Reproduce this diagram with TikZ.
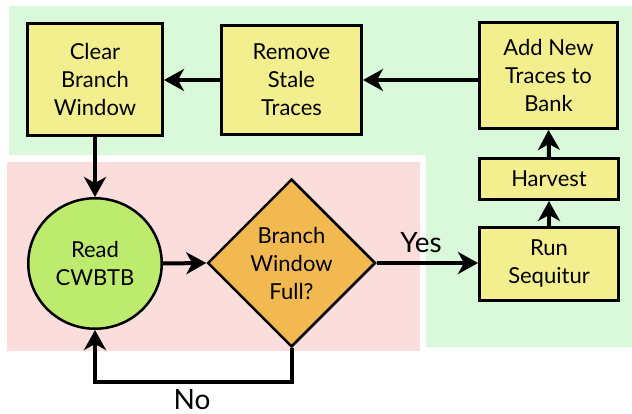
\documentclass[tikz,border=0pt]{standalone}
\usepackage{fontspec}
\setmainfont{Lato}
\usetikzlibrary{arrows.meta,shapes.geometric}
\definecolor{bggreen}{RGB}{218,248,218}
\definecolor{bgpink}{RGB}{251,222,219}
\definecolor{boxyellow}{RGB}{243,239,143}
\definecolor{circgreen}{RGB}{189,235,109}
\definecolor{diaorange}{RGB}{242,185,80}
\begin{document}
\begin{tikzpicture}[x=1pt,y=-1pt,
  every node/.style={font=\fontsize{22}{28}\selectfont, align=center, inner sep=0pt},
  stepbox/.style={draw=black, line width=3.3pt, fill=boxyellow},
  roundstep/.style={draw=black, line width=2.5pt, ellipse, fill=circgreen},
  decision/.style={draw=black, line width=2.5pt, diamond, fill=diaorange},
  biglabel/.style={font=\fontsize{28}{30}\selectfont},
  conn/.style={line width=4pt, -{Stealth[length=20pt,width=22pt,inset=6pt]}}
]
\useasboundingbox (0,0) rectangle (632,414);
% backgrounds
\fill[bggreen] (9,6) -- (632,6) -- (632,347) -- (426,347) -- (426,155) -- (9,155) -- cycle;
\fill[bgpink] (7,162) rectangle (420,351);
% nodes
\node[stepbox, minimum width=134.7pt, minimum height=111.7pt] (clear) at (95,79.5) {Clear\\Branch\\Window};
\node[stepbox, minimum width=139.7pt, minimum height=108.7pt] (remove) at (291.5,80) {Remove\\Stale\\Traces};
\node[stepbox, minimum width=137.7pt, minimum height=105.7pt] (add) at (548.5,75.5) {Add New\\Traces to\\Bank};
\node[stepbox, minimum width=138.7pt, minimum height=40.7pt] (harvest) at (549,179) {Harvest};
\node[stepbox, minimum width=138.7pt, minimum height=72.7pt] (run) at (549,264) {Run\\Sequitur};
\node[roundstep, minimum width=133.5pt, minimum height=130.5pt] (read) at (95,263.5) {Read\\CWBTB};
\node[decision, minimum width=168pt, minimum height=168pt] (full) at (291.5,263) {Branch\\Window\\Full?};
\coordinate (loopc) at (291.5,382);
% connectors
\draw[conn] (add.west |- remove.east) -- (remove.east);
\draw[conn] (remove.west) -- (clear.east |- remove.west);
\draw[conn] (clear.south) -- (read.north);
\draw[conn] (read.east) -- (full.west);
\draw[conn] (full.east) -- (run.west |- full.east);
\draw[conn] (run.north) -- (harvest.south);
\draw[conn] (harvest.north) -- (add.south);
\draw[conn] (full.south) -- (loopc) -| (read.south);
% labels
\node[biglabel] (yes) at (421,243) {Yes};
\node[biglabel] (no) at (192,399.5) {No};
\end{tikzpicture}
\end{document}
